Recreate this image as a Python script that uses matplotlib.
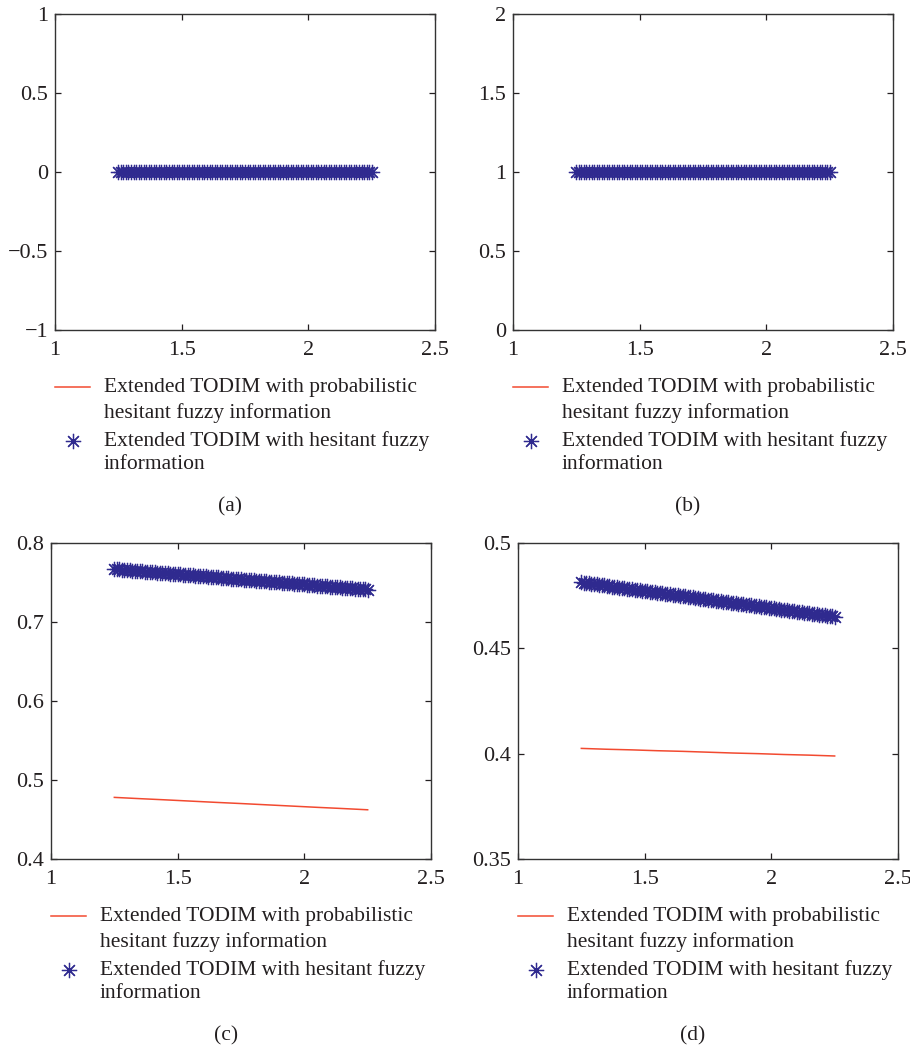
import matplotlib.pyplot as plt
from matplotlib.ticker import FuncFormatter

# attenuation parameter values (marker series)
x = [1.25, 1.26, 1.27, 1.28, 1.29, 1.30, 1.31, 1.32, 1.33, 1.34,
     1.35, 1.36, 1.37, 1.38, 1.39, 1.40, 1.41, 1.42, 1.43, 1.44,
     1.45, 1.46, 1.47, 1.48, 1.49, 1.50, 1.51, 1.52, 1.53, 1.54,
     1.55, 1.56, 1.57, 1.58, 1.59, 1.60, 1.61, 1.62, 1.63, 1.64,
     1.65, 1.66, 1.67, 1.68, 1.69, 1.70, 1.71, 1.72, 1.73, 1.74,
     1.75, 1.76, 1.77, 1.78, 1.79, 1.80, 1.81, 1.82, 1.83, 1.84,
     1.85, 1.86, 1.87, 1.88, 1.89, 1.90, 1.91, 1.92, 1.93, 1.94,
     1.95, 1.96, 1.97, 1.98, 1.99, 2.00, 2.01, 2.02, 2.03, 2.04,
     2.05, 2.06, 2.07, 2.08, 2.09, 2.10, 2.11, 2.12, 2.13, 2.14,
     2.15, 2.16, 2.17, 2.18, 2.19, 2.20, 2.21, 2.22, 2.23, 2.24,
     2.25]
# attenuation parameter values (line series)
x_line = [1.25, 1.35, 1.45, 1.55, 1.65, 1.75, 1.85, 1.95, 2.05, 2.15, 2.25]

# (a)
phfs_a = [0.0] * 11
hfs_a = [0.0] * 101
# (b)
phfs_b = [1.0] * 11
hfs_b = [1.0] * 101
# (c)
phfs_c = [0.4780, 0.4764, 0.4749, 0.4733, 0.4717, 0.4702, 0.4686, 0.4670, 0.4654, 0.4639,
          0.4623]
hfs_c = [0.76700, 0.76674, 0.76648, 0.76622, 0.76596, 0.76570, 0.76544, 0.76518, 0.76492, 0.76466,
         0.76440, 0.76414, 0.76388, 0.76362, 0.76336, 0.76310, 0.76284, 0.76258, 0.76232, 0.76206,
         0.76180, 0.76154, 0.76128, 0.76102, 0.76076, 0.76050, 0.76024, 0.75998, 0.75972, 0.75946,
         0.75920, 0.75894, 0.75868, 0.75842, 0.75816, 0.75790, 0.75764, 0.75738, 0.75712, 0.75686,
         0.75660, 0.75634, 0.75608, 0.75582, 0.75556, 0.75530, 0.75504, 0.75478, 0.75452, 0.75426,
         0.75400, 0.75374, 0.75348, 0.75322, 0.75296, 0.75270, 0.75244, 0.75218, 0.75192, 0.75166,
         0.75140, 0.75114, 0.75088, 0.75062, 0.75036, 0.75010, 0.74984, 0.74958, 0.74932, 0.74906,
         0.74880, 0.74854, 0.74828, 0.74802, 0.74776, 0.74750, 0.74724, 0.74698, 0.74672, 0.74646,
         0.74620, 0.74594, 0.74568, 0.74542, 0.74516, 0.74490, 0.74464, 0.74438, 0.74412, 0.74386,
         0.74360, 0.74334, 0.74308, 0.74282, 0.74256, 0.74230, 0.74204, 0.74178, 0.74152, 0.74126,
         0.74100]
# (d)
phfs_d = [0.4025, 0.4021, 0.4018, 0.4014, 0.4011, 0.4007, 0.4003, 0.4000, 0.3996, 0.3993,
          0.3989]
hfs_d = [0.48130, 0.48114, 0.48097, 0.48081, 0.48065, 0.48049, 0.48032, 0.48016, 0.48000, 0.47983,
         0.47967, 0.47951, 0.47934, 0.47918, 0.47902, 0.47886, 0.47869, 0.47853, 0.47837, 0.47820,
         0.47804, 0.47788, 0.47771, 0.47755, 0.47739, 0.47723, 0.47706, 0.47690, 0.47674, 0.47657,
         0.47641, 0.47625, 0.47608, 0.47592, 0.47576, 0.47560, 0.47543, 0.47527, 0.47511, 0.47494,
         0.47478, 0.47462, 0.47445, 0.47429, 0.47413, 0.47397, 0.47380, 0.47364, 0.47348, 0.47331,
         0.47315, 0.47299, 0.47282, 0.47266, 0.47250, 0.47234, 0.47217, 0.47201, 0.47185, 0.47168,
         0.47152, 0.47136, 0.47119, 0.47103, 0.47087, 0.47071, 0.47054, 0.47038, 0.47022, 0.47005,
         0.46989, 0.46973, 0.46956, 0.46940, 0.46924, 0.46908, 0.46891, 0.46875, 0.46859, 0.46842,
         0.46826, 0.46810, 0.46793, 0.46777, 0.46761, 0.46745, 0.46728, 0.46712, 0.46696, 0.46679,
         0.46663, 0.46647, 0.46630, 0.46614, 0.46598, 0.46582, 0.46565, 0.46549, 0.46533, 0.46516,
         0.46500]

xticks = [1, 1.5, 2, 2.5]
yticks_a = [-1, -0.5, 0, 0.5, 1]
yticks_b = [0, 0.5, 1, 1.5, 2]
yticks_c = [0.4, 0.5, 0.6, 0.7, 0.8]
yticks_d = [0.35, 0.4, 0.45, 0.5]

label_phfs = ["Extended TODIM with probabilistic", "hesitant fuzzy information"]
label_hfs = ["Extended TODIM with hesitant fuzzy", "information"]

TEXT = '#231f20'
RED = '#f24a30'
BLUE = '#2f2a8f'
FS = 15.5
line_style = dict(color=RED, lw=1.1)
star_style = dict(ls='none', marker=(8, 2, 0), ms=11, mew=0.9, color=BLUE)

plt.rcParams['font.family'] = ['Liberation Serif', 'DejaVu Serif']
plt.rcParams['font.size'] = FS
plt.rcParams['text.color'] = TEXT
plt.rcParams['xtick.color'] = TEXT
plt.rcParams['ytick.color'] = TEXT


def fmt(v, pos):
    return ('%g' % v).replace('-', '\u2212')


def key(ax, rows):
    # legend block under the axes, key aligned with the first text row
    tr = ax.transAxes
    ax.plot([0.0, 0.092], [rows[0], rows[0]], transform=tr, clip_on=False,
            **line_style)
    ax.plot([0.047], [rows[2]], transform=tr, clip_on=False, **star_style)
    for yy, s in zip(rows, label_phfs + label_hfs):
        ax.text(0.128, yy, s, transform=tr, ha='left', va='center',
                fontsize=FS)


def panel(fig, rect, phfs, hfs, yticks, tag):
    ax = fig.add_axes(rect)
    ax.plot(x_line, phfs, **line_style)
    ax.plot(x, hfs, **star_style)
    ax.set_xlim(1, 2.5)
    ax.set_ylim(yticks[0], yticks[-1])
    ax.set_xticks(xticks)
    ax.set_yticks(yticks)
    ax.xaxis.set_major_formatter(FuncFormatter(fmt))
    ax.yaxis.set_major_formatter(FuncFormatter(fmt))
    ax.tick_params(direction='in', top=True, right=True, length=4,
                   width=0.9, labelsize=16)
    ax.tick_params(axis='x', pad=8)
    ax.tick_params(axis='y', pad=5)
    for s in ax.spines.values():
        s.set_color('#333333')
        s.set_linewidth(1.0)
    key(ax, [-0.181, -0.263, -0.351, -0.427])
    ax.text(0.46, -0.56, tag, transform=ax.transAxes, ha='center',
            va='center', fontsize=FS)
    return ax


fig = plt.figure(figsize=(9.1, 10.51), dpi=100)
w = 380 / 910
h = 316 / 1051
panel(fig, [55 / 910, 721 / 1051, w, h], phfs_a, hfs_a, yticks_a, '(a)')
panel(fig, [513 / 910, 721 / 1051, w, h], phfs_b, hfs_b, yticks_b, '(b)')
panel(fig, [51 / 910, 192 / 1051, w, h], phfs_c, hfs_c, yticks_c, '(c)')
panel(fig, [518 / 910, 192 / 1051, w, h], phfs_d, hfs_d, yticks_d, '(d)')

fig.savefig('out.png', dpi=100)
